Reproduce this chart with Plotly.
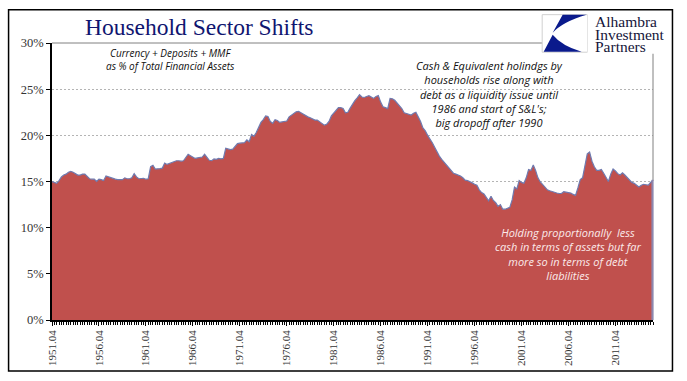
import plotly.graph_objects as go

W, H = 687, 381
L, R, T, B = 51.5, 653.5, 43.3, 320.0

first_year = 1951
first_quarter = 4
share = [
 15.0,14.9,14.8,15.1,15.5,15.7,15.8,16.0,16.1,16.0,15.8,15.7,15.7,15.8,15.8,15.6,15.3,15.25,15.25,15.0,
 15.25,15.2,15.1,15.6,15.5,15.45,15.3,15.25,15.2,15.2,15.2,15.4,15.3,15.3,15.4,15.85,15.5,15.3,15.3,15.35,
 15.25,15.3,16.6,16.75,16.35,16.35,16.4,16.45,17.0,16.85,16.95,17.05,17.2,17.25,17.25,17.2,17.25,17.6,17.95,17.8,
 17.6,17.5,17.55,17.6,17.65,17.95,17.55,17.3,17.25,17.45,17.4,17.5,17.45,17.5,18.6,18.5,18.45,18.5,18.8,19.1,
 19.15,19.15,19.2,19.5,19.3,20.1,19.9,20.3,20.9,21.4,21.7,22.1,22.05,21.5,21.3,21.7,21.6,21.4,21.45,21.5,
 21.55,22.0,22.2,22.4,22.55,22.6,22.45,22.3,22.1,22.0,21.9,21.8,21.65,21.65,21.45,21.2,21.1,21.2,21.5,22.1,
 22.4,22.6,23.0,23.0,22.9,22.45,22.5,22.95,23.4,23.75,24.05,24.4,24.15,24.1,24.2,24.3,24.15,24.0,24.2,24.3,
 23.6,23.1,23.0,22.9,24.0,23.95,23.8,23.5,23.2,22.9,22.45,22.35,22.3,22.2,22.4,22.5,22.0,21.5,20.8,20.5,
 20.0,19.65,19.2,18.7,18.2,17.75,17.4,17.1,16.8,16.45,16.15,15.9,15.8,15.7,15.6,15.4,15.15,15.1,15.0,14.85,
 14.7,14.6,14.1,13.8,13.65,13.2,12.9,13.4,12.95,12.7,12.3,12.5,12.0,12.0,12.1,12.2,13.0,14.4,14.2,15.1,
 14.9,14.8,15.4,16.3,16.2,16.8,16.2,15.4,14.95,14.7,14.4,14.1,14.0,13.9,13.8,13.75,13.7,13.7,13.9,13.85,
 13.8,13.75,13.6,13.5,14.3,15.2,15.4,16.8,18.0,18.2,17.2,16.6,16.2,16.2,16.3,15.9,15.4,15.0,15.8,16.35,
 16.15,15.85,15.7,15.95,15.7,15.4,15.1,14.9,14.8,14.6,14.4,14.6,14.7,14.65,14.6,14.9,15.15,
]
y_ticks = [0, 5, 10, 15, 20, 25, 30]
title_text = "Household Sector Shifts"
note_top = "Currency + Deposits + MMF<br>as % of Total Financial Assets"
note_right = ("Cash &amp; Equivalent holindgs by<br>households rise along with<br>"
              "debt as a liquidity issue until<br>1986 and start of S&amp;L's;<br>big dropoff after 1990")
note_low = ("Holding proportionally  less<br>cash in terms of assets but far<br>"
            "more so in terms of debt<br>liabilities")
logo_lines = ["Alhambra", "Investment", "Partners"]

quarters = []
yr, q = first_year, first_quarter
for _ in share:
    quarters.append(f"{yr}.{q:02d}")
    q += 1
    if q > 4:
        yr, q = yr + 1, 1
tick_labels = quarters[::20]

def px(x): return (x - L) / (R - L)
def py(y): return (B - y) / (B - T)

fig = go.Figure(go.Scatter(
    x=quarters, y=share, mode="lines", fill="tozeroy",
    fillcolor="#C0504D", line=dict(color="#6F7BB0", width=1.2), hoverinfo="skip"))

shapes = [
    # outer frame
    dict(type="rect", xref="paper", yref="paper", x0=px(8), x1=px(673), y0=py(371), y1=py(10),
         line=dict(color="#000000", width=1.5), layer="above"),
    # top and right plot border
    dict(type="line", xref="paper", yref="paper", x0=px(L), x1=px(R), y0=py(T), y1=py(T),
         line=dict(color="#808080", width=1), layer="above"),
    dict(type="line", xref="paper", yref="paper", x0=px(R), x1=px(R), y0=py(T), y1=py(181),
         line=dict(color="#808080", width=1), layer="above"),
    dict(type="line", xref="paper", yref="paper", x0=px(R-0.5), x1=px(R-0.5), y0=py(180), y1=py(B),
         line=dict(color="#8D87AE", width=2.2), layer="above"),
    # logo
    dict(type="rect", xref="paper", yref="paper", x0=px(542.5), x1=px(588), y0=py(52.5), y1=py(15),
         line=dict(color="#D0D0D0", width=1), fillcolor="#FFFFFF", layer="above"),
    dict(type="rect", xref="paper", yref="paper", x0=px(588), x1=px(668), y0=py(54), y1=py(12),
         line=dict(width=0), fillcolor="#FFFFFF", layer="above"),
]
def logo_path(points):
    out = []
    for cmd, *pts in points:
        out.append(cmd + " " + " ".join(f"{px(a):.5f},{py(b):.5f}" for a, b in pts))
    return " ".join(out) + " Z"
shapes.append(dict(type="path", xref="paper", yref="paper", layer="above", line=dict(width=0),
    fillcolor="#0A1A8C",
    path=logo_path([("M", (563, 15)), ("L", (587, 15)), ("Q", (563, 22), (553, 33)), ("L", (553, 33))])))
shapes.append(dict(type="path", xref="paper", yref="paper", layer="above", line=dict(width=0),
    fillcolor="#0A1A8C",
    path=logo_path([("M", (553, 35)), ("Q", (562, 46), (582, 52)), ("L", (544, 52))])))

def note(text, x, y, size, color="#111111", family="Open Sans", italic=True, align="center"):
    return dict(text=f"<i>{text}</i>" if italic else text, xref="paper", yref="paper",
                x=px(x), y=py(y), xanchor="center", yanchor="middle", showarrow=False,
                align=align, font=dict(family=family, size=size, color=color))

annotations = [
    note(note_top, 170, 60, 10),
    note(note_right, 490, 94.5, 11),
    note(note_low, 568, 254, 11, color="#FBEAEA"),
]
for line_y, line in zip((22, 34.5, 47), logo_lines):
    annotations.append(dict(text=line, xref="paper", yref="paper", x=px(593.5), y=py(line_y),
                            xanchor="left", yanchor="middle", showarrow=False, align="left",
                            font=dict(family="Liberation Serif", size=15.5, color="#15153A")))

fig.update_layout(
    width=W, height=H, autosize=False,
    margin=dict(l=L, r=W-R, t=T, b=H-B, pad=0),
    paper_bgcolor="#FFFFFF", plot_bgcolor="#FFFFFF", showlegend=False,
    title=dict(text=title_text, x=85/W, xanchor="left", y=1-27/H, yanchor="middle",
               font=dict(family="Liberation Serif", size=23.5, color="#0F1570")),
    shapes=shapes, annotations=annotations,
    xaxis=dict(type="category", range=[0, len(share)-1], tickmode="array",
               tickvals=tick_labels, ticktext=tick_labels, tickangle=-90,
               ticks="outside", ticklen=4, tickwidth=1, tickcolor="#000000",
               minor=dict(ticks="outside", ticklen=3, tickwidth=1, tickcolor="#000000",
                          tickmode="linear", tick0=0, dtick=1, showgrid=False),
               showline=True, linecolor="#000000", linewidth=1.5, showgrid=False, zeroline=False,
               tickfont=dict(family="Liberation Serif", size=11, color="#333333")),
    yaxis=dict(range=[0, 30], tickmode="array", tickvals=y_ticks, ticktext=[f"{v}%" for v in y_ticks],
               ticks="outside", ticklen=4, tickwidth=1, tickcolor="#000000",
               showline=True, linecolor="#000000", linewidth=1.5, zeroline=False,
               showgrid=True, gridcolor="#B4B4B4", gridwidth=1, griddash="2px,2px",
               tickfont=dict(family="Liberation Serif", size=12.5, color="#333333")),
)

fig.write_html("out.html", config=dict(displayModeBar=False),
               post_script="document.body.style.margin='0';document.body.style.overflow='hidden';")
